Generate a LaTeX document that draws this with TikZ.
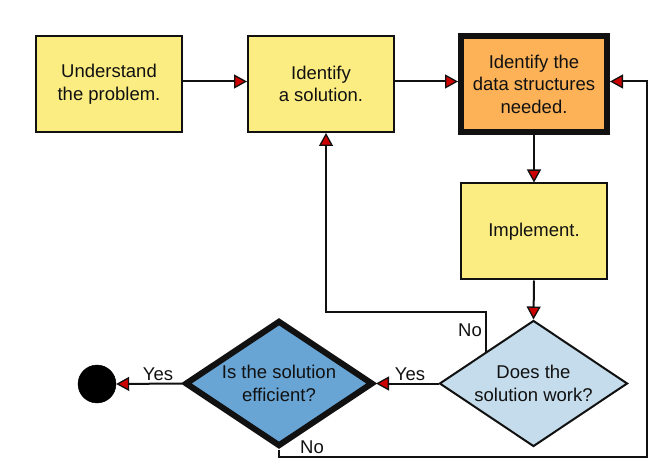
\documentclass[tikz,border=0pt]{standalone}
\usepackage{fontspec}
\setmainfont{Liberation Sans}
\usetikzlibrary{shapes.geometric,arrows.meta,calc}
\definecolor{boxyellow}{HTML}{FCED82}
\definecolor{boxorange}{HTML}{FDB258}
\definecolor{lightblue}{HTML}{C4DCEC}
\definecolor{midblue}{HTML}{68A4D4}
\definecolor{arrowred}{HTML}{CC0000}
\definecolor{ink}{HTML}{111111}
\begin{document}
\begin{tikzpicture}[x=1pt,y=-1pt,
  every node/.style={font=\fontsize{18.5pt}{22.5pt}\selectfont, text=ink},
  stepbox/.style={draw=ink, line width=2pt, fill=boxyellow, rectangle,
    minimum width=146pt, minimum height=96pt, align=center, inner sep=0pt},
  keybox/.style={stepbox, line width=6pt, fill=boxorange},
  decide/.style={draw=ink, line width=2pt, diamond, aspect=1.5, inner sep=0pt,
    minimum width=188pt, minimum height=126pt, align=center, fill=lightblue},
  keydecide/.style={decide, line width=6pt, fill=midblue},
  flow/.style={draw=ink, line width=2pt,
    -{Triangle[length=13pt, width=14pt, fill=arrowred, line width=1.3pt]}},
  lbl/.style={inner sep=0pt}
]
\useasboundingbox (0,0) rectangle (653,470);

\node[stepbox] (b1) at (109,84) {Understand\\the problem.};
\node[stepbox] (b2) at (321,84) {Identify\\a solution.};
\node[keybox] (b3) at (534,84) {Identify the\\data structures\\needed.};
\node[stepbox] (b4) at (534,231.5) {Implement.};
\node[decide] (d1) at (533.5,383.5) {Does the\\solution work?};
\node[keydecide] (d2) at (279,383.5) {Is the solution\\efficient?};
\node[circle, fill=black, draw=black, minimum size=38pt, inner sep=0pt] (end) at (97,384) {};

\coordinate (c1) at (326,312);
\coordinate (c2) at (647,457);

\draw[flow] ([yshift=2.5pt]b1.east) -- ([yshift=2.5pt]b2.west);
\draw[flow] ([yshift=2.5pt]b2.east) -- ([yshift=2.5pt]b3.west);
\draw[flow] (b3.south) -- (b4.north);
\draw[flow] (b4.south) -- (d1.north);
\draw[flow] (d1.north west) |- (c1) -- (c1 |- b2.south);
\draw[flow] (d1.west) -- (d2.east);
\draw[flow] (d2.west) -- (end.east);
\draw[flow] (d2.south) |- (c2) |- ([yshift=2.5pt]b3.east);

\node[lbl] (no1) at (470,330) {No};
\node[lbl] (yes1) at (410,374) {Yes};
\node[lbl] (yes2) at (158,374) {Yes};
\node[lbl] (no2) at (312,447) {No};
\end{tikzpicture}
\end{document}
